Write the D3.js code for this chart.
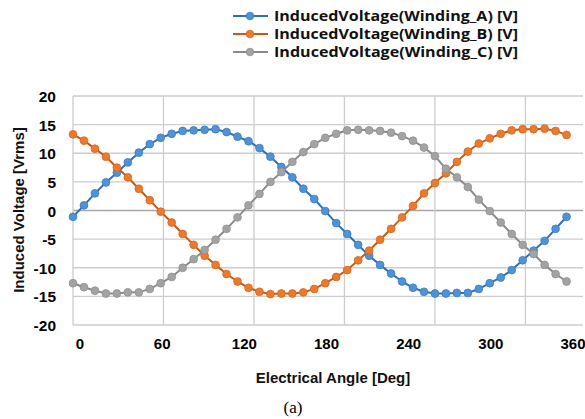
<!DOCTYPE html>
<html>
<head>
<meta charset="utf-8">
<script src="https://cdn.jsdelivr.net/npm/d3@7/dist/d3.min.js"></script>
<style>
  html, body { margin: 0; padding: 0; background: #fff; }
  svg { display: block; }
</style>
</head>
<body>
<svg id="chart" width="585" height="419"></svg>
<script>
// ---------- data ----------
const angles = d3.range(0, 361, 8); // electrical angle of each sample [deg]
const seriesNames = [
  "InducedVoltage(Winding_A) [V]",
  "InducedVoltage(Winding_B) [V]",
  "InducedVoltage(Winding_C) [V]"
];
const windingA = [-1.1, 0.9, 3.0, 4.9, 6.6, 8.4, 10.1, 11.6, 12.7, 13.4, 13.9, 14.0, 14.1, 14.2, 13.7, 12.9,
  12.1, 10.9, 9.4, 7.6, 5.8, 3.8, 2.0, -0.1, -2.2, -4.1, -6.0, -7.9, -9.5, -11.0, -12.4, -13.5,
  -14.2, -14.5, -14.5, -14.4, -14.4, -13.7, -12.7, -11.7, -10.4, -8.7, -7.0, -5.3, -3.2, -1.1];
const windingB = [13.3, 12.2, 10.8, 9.4, 7.5, 5.8, 3.8, 1.8, -0.2, -2.1, -4.1, -6.0, -7.9, -9.5, -11.1, -12.4,
  -13.5, -14.2, -14.6, -14.5, -14.5, -14.3, -13.7, -12.7, -11.6, -10.4, -8.7, -7.0, -5.1, -3.2, -1.2, 0.8,
  3.0, 4.8, 6.5, 8.5, 10.3, 11.7, 12.6, 13.4, 14.0, 14.2, 14.2, 14.3, 13.9, 13.2];
const windingC = [-12.7, -13.4, -14.0, -14.5, -14.5, -14.3, -14.3, -13.7, -12.7, -11.6, -10.0, -8.5, -6.9, -5.1, -3.2, -1.2,
  0.9, 2.9, 5.0, 6.7, 8.5, 10.2, 11.6, 12.7, 13.4, 14.0, 14.1, 14.0, 13.9, 13.6, 13.0, 12.2,
  11.0, 9.5, 7.3, 5.8, 4.1, 1.9, -0.1, -2.1, -4.1, -6.0, -7.6, -9.5, -11.1, -12.4];
const yTicks = [-20, -15, -10, -5, 0, 5, 10, 15, 20];
const xTickLabels = [0, 60, 120, 180, 240, 300, 360];
const xTitle = "Electrical Angle [Deg]";
const yTitle = "Induced Voltage [Vrms]";
const caption = "(a)";

// ---------- styles ----------
const lineColors = ["#2e6fb5", "#c85a14", "#8a8a8a"];
const fillColors = ["#4f92d6", "#ec7a2c", "#a3a3a3"];
const edgeColors = ["#3a7cc2", "#d5671f", "#909090"];

const svg = d3.select("#chart");
const pLeft = 73, pRight = 583, pTop = 96, pBottom = 325;

const x = d3.scaleLinear().domain([0, 372]).range([pLeft, pRight]);
const y = d3.scaleLinear().domain([-20, 20]).range([pBottom, pTop]);
const xLab = d3.scaleLinear().domain([0, 360]).range([80, 573]);

// grid
const grid = svg.append("g");
grid.selectAll("line.h").data(yTicks).join("line")
  .attr("x1", pLeft).attr("x2", pRight)
  .attr("y1", d => y(d)).attr("y2", d => y(d))
  .attr("stroke", d => d === 0 ? "#a6a6a6" : "#cdcdcd")
  .attr("stroke-width", 1.3);
grid.selectAll("line.v").data(d3.range(0, 372, 66)).join("line")
  .attr("x1", d => x(d)).attr("x2", d => x(d))
  .attr("y1", pTop).attr("y2", pBottom)
  .attr("stroke", "#cdcdcd").attr("stroke-width", 1.3);

// y axis labels
const yAxis = svg.append("g")
  .attr("transform", `translate(${pLeft - 17},0)`)
  .call(d3.axisLeft(y).tickValues(yTicks).tickSize(0).tickPadding(0).tickFormat(d => String(d)));
yAxis.select(".domain").remove();
yAxis.selectAll("text")
  .attr("font-family", "'Liberation Sans', Arial, sans-serif")
  .attr("font-weight", "bold").attr("font-size", 15.5).attr("fill", "#000")
  .attr("dy", "0.36em");

// x labels
svg.append("g").selectAll("text").data(xTickLabels).join("text")
  .attr("x", d => xLab(d)).attr("y", 349)
  .attr("text-anchor", "middle")
  .attr("font-family", "'Liberation Sans', Arial, sans-serif")
  .attr("font-weight", "bold").attr("font-size", 15).attr("fill", "#000")
  .text(d => d);

// titles
svg.append("text")
  .attr("x", 333).attr("y", 383).attr("text-anchor", "middle")
  .attr("font-family", "'Liberation Sans', Arial, sans-serif")
  .attr("font-weight", "bold").attr("font-size", 15).attr("fill", "#111")
  .text(xTitle);
svg.append("text")
  .attr("transform", "translate(24,210) rotate(-90)").attr("text-anchor", "middle")
  .attr("font-family", "'Liberation Sans', Arial, sans-serif")
  .attr("font-weight", "bold").attr("font-size", 15).attr("fill", "#111")
  .text(yTitle);
svg.append("text")
  .attr("x", 293).attr("y", 413).attr("text-anchor", "middle")
  .attr("font-family", "'Liberation Serif', 'Times New Roman', serif")
  .attr("font-size", 17).attr("fill", "#000")
  .text(caption);

// series
const allSeries = [windingA, windingB, windingC];
const line = d3.line().x((d, i) => x(angles[i])).y(d => y(d));
allSeries.forEach((vals, k) => {
  const g = svg.append("g");
  g.append("path").datum(vals)
    .attr("d", line).attr("fill", "none")
    .attr("stroke", lineColors[k]).attr("stroke-width", 2);
  g.selectAll("circle").data(vals).join("circle")
    .attr("cx", (d, i) => x(angles[i])).attr("cy", d => y(d))
    .attr("r", 3.9)
    .attr("fill", fillColors[k]).attr("stroke", edgeColors[k]).attr("stroke-width", 0.8);
});

// legend
const leg = svg.append("g");
seriesNames.forEach((name, k) => {
  const ly = 16 + k * 18;
  leg.append("line").attr("x1", 233).attr("x2", 268).attr("y1", ly).attr("y2", ly)
    .attr("stroke", lineColors[k]).attr("stroke-width", 2);
  leg.append("circle").attr("cx", 250).attr("cy", ly).attr("r", 3.8)
    .attr("fill", fillColors[k]).attr("stroke", edgeColors[k]).attr("stroke-width", 0.8);
  leg.append("text").attr("x", 274).attr("y", ly + 5)
    .attr("font-family", "'Open Sans', sans-serif")
    .attr("font-weight", "bold").attr("font-size", 14.5).attr("fill", "#111")
    .attr("textLength", 244).attr("lengthAdjust", "spacingAndGlyphs")
    .text(name);
});
</script>
</body>
</html>
